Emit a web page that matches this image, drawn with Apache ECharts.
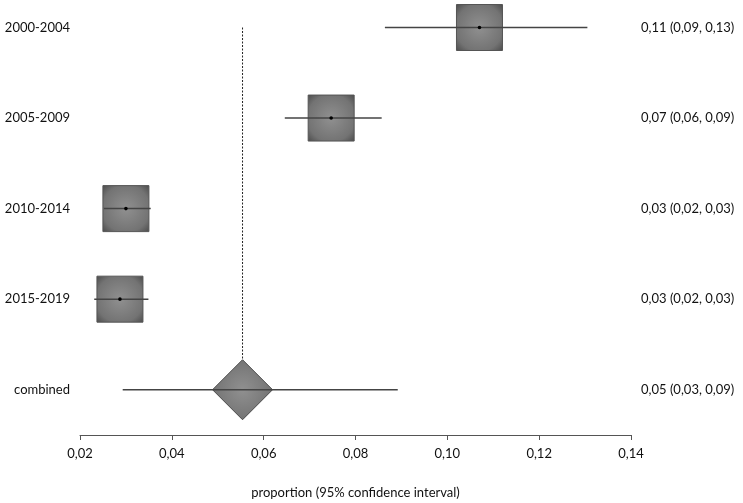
<!DOCTYPE html>
<html>
<head>
<meta charset="utf-8">
<script src="https://cdn.jsdelivr.net/npm/echarts@6/dist/echarts.min.js"></script>
<style>
html,body{margin:0;padding:0;background:#fff;}
#c{width:743px;height:503px;}
</style>
</head>
<body>
<div id="c"></div>
<script>
var categories = ['2000-2004', '2005-2009', '2010-2014', '2015-2019', 'combined'];
var estimates = [0.1070, 0.0747, 0.0300, 0.0287, 0.0554];
var lower = [0.0864, 0.0646, 0.0252, 0.0231, 0.0293];
var upper = [0.1305, 0.0857, 0.0354, 0.0349, 0.0892];
var ciLabels = ['0,11 (0,09, 0,13)', '0,07 (0,06, 0,09)', '0,03 (0,02, 0,03)', '0,03 (0,02, 0,03)', '0,05 (0,03, 0,09)'];
var xTicks = [0.02, 0.04, 0.06, 0.08, 0.10, 0.12, 0.14];

var FONT = 'Lato, "Open Sans", sans-serif';
var combinedIndex = categories.length - 1;

var studyData = [];
for (var i = 0; i < combinedIndex; i++) studyData.push([estimates[i], i, lower[i], upper[i]]);
var combinedData = [[estimates[combinedIndex], combinedIndex, lower[combinedIndex], upper[combinedIndex]]];

var grad = function () {
  return {type: 'radial', x: 0.5, y: 0.5, r: 0.72,
    colorStops: [{offset: 0, color: '#909090'}, {offset: 0.7, color: '#737373'}, {offset: 1, color: '#474747'}]};
};

var chart = echarts.init(document.getElementById('c'));
chart.setOption({
  animation: false,
  grid: {left: 80, right: 112, top: 27.5, bottom: 68, containLabel: false, outerBoundsMode: 'none'},
  xAxis: {
    type: 'value', min: 0.02, max: 0.14, interval: 0.02,
    axisLine: {show: true, onZero: false, lineStyle: {color: '#555', width: 1}},
    axisTick: {show: true, length: 5, inside: false, lineStyle: {color: '#555'}},
    splitLine: {show: false},
    axisLabel: {color: '#111', fontFamily: FONT, fontSize: 13, margin: 12,
      formatter: function (v) { return v.toFixed(2).replace('.', ','); }},
    name: 'proportion (95% confidence interval)',
    nameLocation: 'middle', nameGap: 51,
    nameTextStyle: {color: '#111', fontFamily: FONT, fontSize: 13}
  },
  yAxis: [{
    type: 'value', min: 0, max: 4.5, interval: 1, inverse: true,
    axisLine: {show: false}, axisTick: {show: false}, splitLine: {show: false},
    axisLabel: {color: '#111', fontFamily: FONT, fontSize: 13, margin: 10, align: 'right',
      showMaxLabel: false,
      formatter: function (v) { return (Math.abs(v - Math.round(v)) < 1e-6 && categories[Math.round(v)]) || ''; }}
  }, {
    type: 'value', min: 0, max: 4.5, interval: 1, inverse: true, position: 'right',
    axisLine: {show: false}, axisTick: {show: false}, splitLine: {show: false},
    axisLabel: {color: '#111', fontFamily: FONT, fontSize: 13, margin: 10, align: 'left',
      showMaxLabel: false,
      formatter: function (v) { return (Math.abs(v - Math.round(v)) < 1e-6 && ciLabels[Math.round(v)]) || ''; }}
  }],
  series: [{
    type: 'custom', clip: false, z: 3,
    data: combinedData,
    encode: {x: [0, 2, 3], y: 1},
    renderItem: function (params, api) {
      var c = api.coord([api.value(0), api.value(1)]);
      var top = api.coord([api.value(0), 0]);
      var lo = api.coord([api.value(2), api.value(1)]);
      var hi = api.coord([api.value(3), api.value(1)]);
      var hw = 30, hh = 30;
      return {type: 'group', children: [
        {type: 'line', shape: {x1: c[0], y1: top[1], x2: c[0], y2: c[1] - hh},
          style: {stroke: '#222', lineWidth: 1, lineDash: [2, 1.5]}},
        {type: 'polygon', shape: {points: [[c[0], c[1] - hh], [c[0] + hw, c[1]], [c[0], c[1] + hh], [c[0] - hw, c[1]]]},
          style: {fill: grad(), stroke: '#4a4a4a', lineWidth: 1}},
        {type: 'line', shape: {x1: lo[0], y1: lo[1], x2: hi[0], y2: hi[1]},
          style: {stroke: '#444', lineWidth: 1.5}}
      ]};
    }
  }, {
    type: 'custom', clip: false, z: 4,
    data: studyData,
    encode: {x: [0, 2, 3], y: 1},
    renderItem: function (params, api) {
      var c = api.coord([api.value(0), api.value(1)]);
      var lo = api.coord([api.value(2), api.value(1)]);
      var hi = api.coord([api.value(3), api.value(1)]);
      var s = 46;
      return {type: 'group', children: [
        {type: 'rect', shape: {x: c[0] - s / 2, y: c[1] - s / 2, width: s, height: s},
          style: {fill: grad(), stroke: '#555', lineWidth: 1}},
        {type: 'line', shape: {x1: lo[0], y1: lo[1], x2: hi[0], y2: hi[1]},
          style: {stroke: '#444', lineWidth: 1.5}},
        {type: 'circle', shape: {cx: c[0], cy: c[1], r: 1.8}, style: {fill: '#000'}}
      ]};
    }
  }]
});
</script>
</body>
</html>
